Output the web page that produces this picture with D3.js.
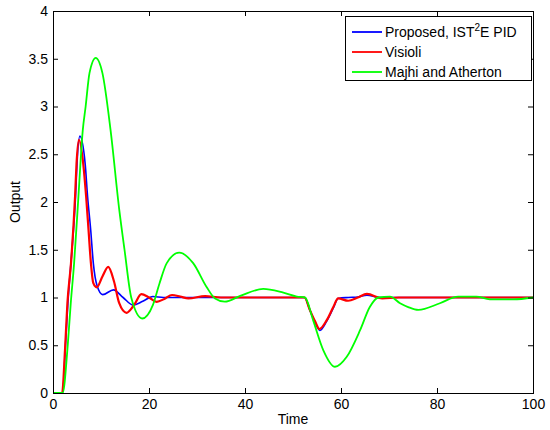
<!DOCTYPE html>
<html>
<head>
<meta charset="utf-8">
<script src="https://cdn.jsdelivr.net/npm/d3@7"></script>
<style>
  html, body { margin: 0; padding: 0; background: #fff; }
  svg text { font-family: Arial, "Liberation Sans", sans-serif; font-size: 14px; fill: #000; }
</style>
</head>
<body>
<svg id="chart" width="550" height="430"></svg>
<script>
// ---- data ----
const xTicks = [0, 20, 40, 60, 80, 100];
const yTicks = [0, 0.5, 1, 1.5, 2, 2.5, 3, 3.5, 4];
const seriesNames = ["Proposed, IST²E PID", "Visioli", "Majhi and Atherton"];
const seriesColors = ["#0000ff", "#ff0000", "#00ff00"];

const proposedT = [0, 2.0, 2.6, 3.1, 3.8, 4.7, 5.0, 5.6, 6.7, 7.2, 7.85, 8.4, 9.2, 10.35, 12.6, 14.6, 16.7, 18.7, 20.8, 23, 26, 52.4, 53.5, 54.6, 55.6, 57, 58.4, 59.4, 61.5, 63.5, 65.4, 68, 72, 100];
const proposedY = [0, 0, 0.5, 0.94, 1.4, 2.06, 2.4, 2.69, 2.4, 2.06, 1.71, 1.36, 1.12, 1.03, 1.08, 1.0, 0.92, 0.96, 1.01, 1.0, 1.0, 1.0, 0.87, 0.74, 0.655, 0.75, 0.89, 0.99, 1.0, 1.005, 1.025, 1.0, 1.0, 1.0];

const visioliT = [0, 1.9, 2.5, 3.0, 3.75, 4.6, 4.9, 5.4, 6.3, 6.9, 7.4, 7.9, 8.4, 9.1, 10.3, 11.5, 12.7, 13.8, 15.3, 17, 18.4, 20, 21.6, 23.2, 24.8, 26.5, 28.2, 31.7, 35, 52.4, 53.5, 54.6, 55.5, 57, 58.4, 59.4, 61.5, 63.5, 65.4, 68.6, 72, 100];
const visioliY = [0, 0, 0.45, 0.94, 1.36, 2.06, 2.4, 2.65, 2.4, 2.06, 1.71, 1.36, 1.15, 1.107, 1.22, 1.32, 1.17, 0.94, 0.84, 0.93, 1.035, 1.0, 0.955, 0.985, 1.026, 1.01, 0.99, 1.015, 1.0, 1.0, 0.87, 0.75, 0.67, 0.76, 0.9, 0.99, 0.966, 1.0, 1.037, 0.99, 1.0, 1.0];

const majhiT = [0, 2.0, 3.1, 3.7, 4.4, 5.3, 6.2, 6.8, 7.6, 8.9, 10.3, 12.0, 13.8, 14.9, 16.3, 18.6, 20.8, 22.2, 23.7, 26.3, 29.2, 32.0, 33.75, 35.8, 39, 43.8, 48, 50.8, 52.5, 54.2, 56.3, 58.75, 61.2, 64, 66, 67.8, 70.2, 72.3, 74, 76.1, 80.6, 84.4, 88.2, 91, 95.9, 100];
const majhiY = [0, 0, 0.52, 0.94, 1.36, 2.06, 2.75, 3.0, 3.35, 3.51, 3.35, 2.75, 1.92, 1.5, 1.0, 0.78, 0.92, 1.15, 1.36, 1.47, 1.36, 1.11, 0.99, 0.956, 1.016, 1.09, 1.05, 1.01, 1.0, 0.76, 0.45, 0.275, 0.38, 0.66, 0.9, 1.0, 1.01, 0.94, 0.9, 0.87, 0.94, 1.01, 1.01, 0.98, 0.98, 1.0];

const seriesT = [proposedT, visioliT, majhiT];
const seriesY = [proposedY, visioliY, majhiY];
const seriesWidths = [1.6, 2.2, 1.8];

// ---- layout ----
const L = 53, R = 533, T = 11, B = 393;
const svg = d3.select("#chart");
const x = d3.scaleLinear().domain([0, 100]).range([L, R]);
const y = d3.scaleLinear().domain([0, 4]).range([B, T]);

svg.append("rect").attr("x", 0).attr("y", 0).attr("width", 550).attr("height", 430).attr("fill", "#fff");

// curves
const line = d3.line().x(d => x(d[0])).y(d => y(d[1])).curve(d3.curveMonotoneX);
svg.append("clipPath").attr("id", "clip").append("rect")
  .attr("x", L).attr("y", T).attr("width", R - L).attr("height", B - T);
const gLines = svg.append("g").attr("clip-path", "url(#clip)");
seriesT.forEach((ts, i) => {
  const pts = ts.map((t, j) => [t, seriesY[i][j]]);
  gLines.append("path").datum(pts).attr("d", line)
    .attr("fill", "none").attr("stroke", seriesColors[i]).attr("stroke-width", seriesWidths[i])
    .attr("stroke-linejoin", "round");
});

// axes (MATLAB box, inward ticks)
const tickLen = 5;
const axB = svg.append("g").attr("transform", `translate(0,${B})`)
  .call(d3.axisBottom(x).tickValues(xTicks).tickSizeInner(-tickLen).tickSizeOuter(0).tickPadding(6).tickFormat(d3.format("d")));
const axT = svg.append("g").attr("transform", `translate(0,${T})`)
  .call(d3.axisTop(x).tickValues(xTicks).tickSizeInner(-tickLen).tickSizeOuter(0).tickFormat(""));
const axL = svg.append("g").attr("transform", `translate(${L},0)`)
  .call(d3.axisLeft(y).tickValues(yTicks).tickSizeInner(-tickLen).tickSizeOuter(0).tickPadding(5).tickFormat(d => String(d)));
const axR = svg.append("g").attr("transform", `translate(${R},0)`)
  .call(d3.axisRight(y).tickValues(yTicks).tickSizeInner(-tickLen).tickSizeOuter(0).tickFormat(""));
[axB, axT, axL, axR].forEach(g => {
  g.selectAll("path").attr("stroke", "#000").attr("stroke-width", 1);
  g.selectAll("line").attr("stroke", "#000").attr("stroke-width", 1);
  g.selectAll("text").attr("font-size", 14).attr("font-family", "Arial, 'Liberation Sans', sans-serif").attr("fill", "#000");
});
axB.selectAll("text").attr("dy", "0.71em");
svg.append("rect").attr("x", L).attr("y", T).attr("width", R - L).attr("height", B - T)
  .attr("fill", "none").attr("stroke", "#000").attr("stroke-width", 1).attr("shape-rendering", "crispEdges");

// axis labels
svg.append("text").attr("x", (L + R) / 2).attr("y", 424).attr("text-anchor", "middle").text("Time");
svg.append("text").attr("transform", `translate(20,${(T + B) / 2}) rotate(-90)`).attr("text-anchor", "middle").text("Output");

// legend
const lg = svg.append("g");
lg.append("rect").attr("x", 345.5).attr("y", 16.5).attr("width", 186).attr("height", 64)
  .attr("fill", "#fff").attr("stroke", "#000").attr("stroke-width", 1);
seriesNames.forEach((name, i) => {
  const yy = 32 + i * 20;
  lg.append("line").attr("x1", 352).attr("x2", 382).attr("y1", yy).attr("y2", yy)
    .attr("stroke", seriesColors[i]).attr("stroke-width", 1.8);
  const tx = lg.append("text").attr("x", 385).attr("y", yy + 5);
  if (i === 0) {
    tx.append("tspan").text("Proposed, IST");
    tx.append("tspan").attr("font-size", 10).attr("dy", -6).text("2");
    tx.append("tspan").attr("dy", 6).text("E PID");
  } else {
    tx.text(name);
  }
});
</script>
</body>
</html>
